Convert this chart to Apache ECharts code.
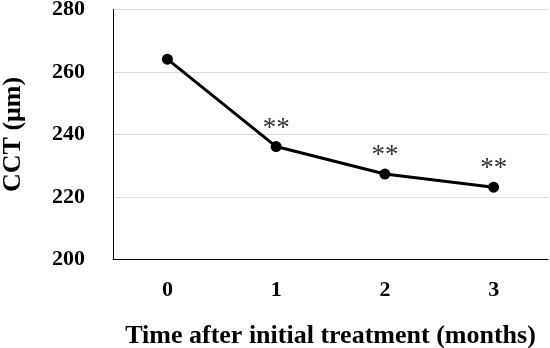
<!DOCTYPE html>
<html>
<head>
<meta charset="utf-8">
<script src="https://cdn.jsdelivr.net/npm/echarts@6/dist/echarts.min.js"></script>
<style>
html,body{margin:0;padding:0;background:#fff;}
#chart{width:550px;height:348px;}
</style>
</head>
<body>
<div id="chart"></div>
<script>
var categories = ['0', '1', '2', '3'];
var cctValues = [264.1, 236.1, 227.3, 223.1];
var significance = ['', '**', '**', '**'];
var yTicks = [200, 220, 240, 260, 280];

var font = 'Liberation Serif, Times New Roman, serif';
var chart = echarts.init(document.getElementById('chart'));
chart.setOption({
  animation: false,
  backgroundColor: '#ffffff',
  grid: { left: 113, right: 2, top: 9.5, bottom: 88.7, outerBoundsMode: 'none', containLabel: false },
  xAxis: {
    type: 'category',
    data: categories,
    boundaryGap: true,
    axisLine: { show: true, lineStyle: { color: '#000', width: 1 } },
    axisTick: { show: false },
    axisLabel: { margin: 20, fontFamily: font, fontWeight: 'bold', fontSize: 22, color: '#000' },
    name: 'Time after initial treatment (months)',
    nameLocation: 'middle',
    nameGap: 64,
    nameTextStyle: { fontFamily: font, fontWeight: 'bold', fontSize: 26, color: '#000' }
  },
  yAxis: {
    type: 'value',
    min: yTicks[0],
    max: yTicks[yTicks.length - 1],
    interval: 20,
    axisLine: { show: true, lineStyle: { color: '#000', width: 1 } },
    axisTick: { show: false },
    splitLine: { show: true, lineStyle: { color: '#d9d9d9', width: 1 } },
    axisLabel: { margin: 28, fontFamily: font, fontWeight: 'bold', fontSize: 22, color: '#000' },
    name: 'CCT (μm)',
    nameLocation: 'middle',
    nameGap: 87,
    nameTextStyle: { fontFamily: font, fontWeight: 'bold', fontSize: 26, color: '#000' }
  },
  series: [{
    type: 'line',
    data: cctValues,
    symbol: 'circle',
    symbolSize: 11,
    lineStyle: { color: '#000', width: 3 },
    itemStyle: { color: '#000' },
    label: {
      show: true,
      position: 'top',
      distance: 3,
      offset: [0, 4],
      formatter: function (p) { return significance[p.dataIndex]; },
      fontFamily: font,
      fontSize: 27,
      color: '#333'
    }
  }]
});
</script>
</body>
</html>
